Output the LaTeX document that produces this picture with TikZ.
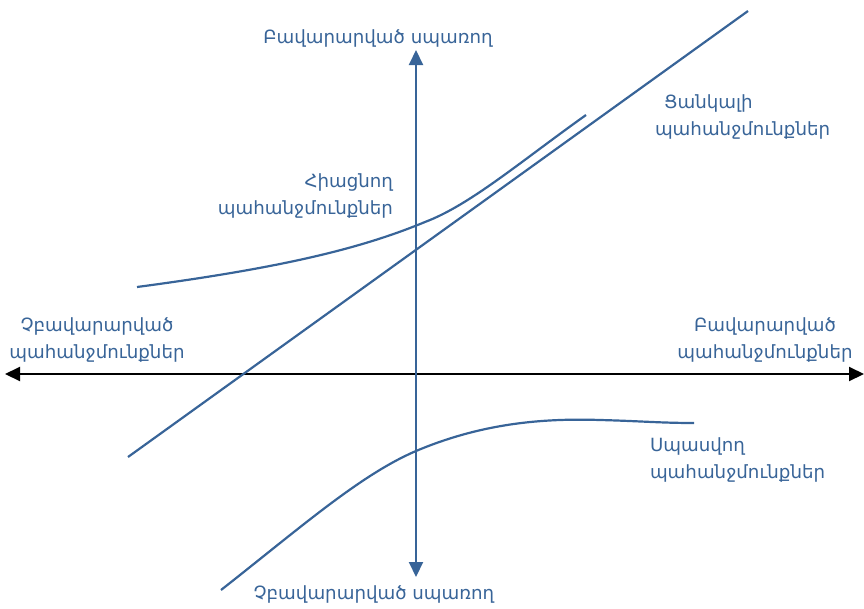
\documentclass[tikz,border=0pt]{standalone}
\usepackage{fontspec}
\setmainfont{DejaVu Sans}
\usetikzlibrary{arrows.meta}
\definecolor{kblue}{RGB}{56,100,152}

\begin{document}
\begin{tikzpicture}[x=1pt,y=-1pt,line width=2pt,
        lbl/.style={text=kblue,font=\fontsize{18.2}{26.5}\selectfont,inner sep=0pt},
        kano/.style={draw=kblue,line width=2.2pt},
        bothtips/.style={{Triangle[length=15pt,width=14pt]}-{Triangle[length=15pt,width=14pt]}}]
        \useasboundingbox (0,0) rectangle (864,608);

        % axes
        \coordinate (xl) at (5,374);
        \coordinate (xr) at (864,374);
        \coordinate (yt) at (416,50);
        \coordinate (yb) at (416,577);
        \draw[bothtips] (xl) -- (xr);
        \draw[bothtips,kblue] (yt) -- (yb);

        % curves
        \coordinate (l1) at (128,457);
        \coordinate (l2) at (748,11);
        \draw[kano] (l1) -- (l2);

        \coordinate (a1) at (137,287);
        \coordinate (a2) at (425,222);
        \coordinate (a3) at (586,115);
        \draw[kano] (a1) .. controls (280,268) and (360,249) .. (a2)
                .. controls (470,205) and (520,162) .. (a3);

        \coordinate (b1) at (221,590);
        \coordinate (b2) at (416,451);
        \coordinate (b3) at (600,420);
        \coordinate (b4) at (694,423);
        \draw[kano] (b1) .. controls (300,528) and (360,475) .. (b2)
                .. controls (480,424) and (540,418) .. (b3)
                .. controls (640,421) and (660,423) .. (b4);

        % labels
        \node[lbl] (sattop) at (378,38) {Բավարարված սպառող};
        \node[lbl] (satbot) at (374,594) {Չբավարարված սպառող};
        \node[lbl,align=left,anchor=west] (want) at (654,117) {\hspace{9pt}Ցանկալի\\պահանջմունքներ};
        \node[lbl,align=right,anchor=east] (excite) at (394,196) {Հիացնող\\պահանջմունքներ};
        \node[lbl,align=center] (unsat) at (97,340) {Չբավարարված\\պահանջմունքներ};
        \node[lbl,align=center] (sat) at (765,340) {Բավարարված\\պահանջմունքներ};
        \node[lbl,align=left,anchor=west] (expect) at (649,460) {Սպասվող\\պահանջմունքներ};
\end{tikzpicture}
\end{document}
